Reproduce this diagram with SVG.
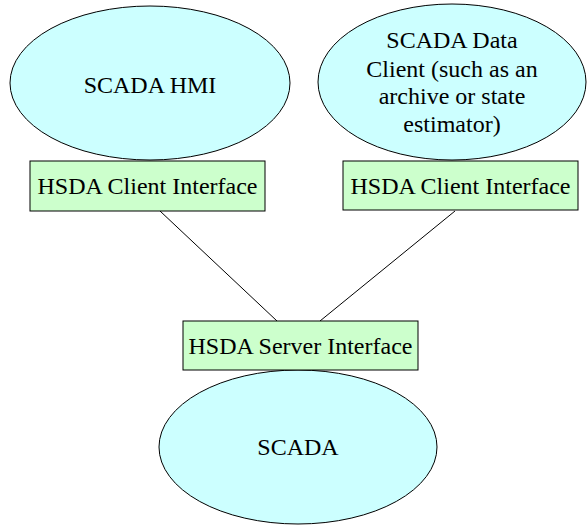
<svg xmlns="http://www.w3.org/2000/svg" width="587" height="525" viewBox="0 0 587 525">
<style>
.ell{fill:#CCFFFF;stroke:#000;stroke-width:1}
.box{fill:#CCFFCC;stroke:#000;stroke-width:1}
.conn{stroke:#000;stroke-width:1;fill:none}
</style>
<rect width="587" height="525" fill="#fff"/>
<g id="connectors">
<line class="conn" x1="160" y1="211" x2="277" y2="321"/>
<line class="conn" x1="455" y1="211" x2="320" y2="321"/>
</g>
<g id="scada-hmi">
<ellipse class="ell" cx="150" cy="83" rx="140" ry="77"/>
<text x="150" y="93" style="font-family:'Liberation Serif',serif" font-size="24" text-anchor="middle">SCADA HMI</text>
</g>
<g id="scada-data-client">
<ellipse class="ell" cx="452" cy="82" rx="134" ry="78"/>
<text x="452" y="48" style="font-family:'Liberation Serif',serif" font-size="24" text-anchor="middle">SCADA Data</text>
<text x="452" y="77" style="font-family:'Liberation Serif',serif" font-size="24" text-anchor="middle">Client (such as an</text>
<text x="452" y="104" style="font-family:'Liberation Serif',serif" font-size="24" text-anchor="middle">archive or state</text>
<text x="452" y="132" style="font-family:'Liberation Serif',serif" font-size="24" text-anchor="middle">estimator)</text>
</g>
<g id="hsda-client-1">
<rect class="box" x="30" y="161" width="235" height="50"/>
<text x="147.5" y="194" style="font-family:'Liberation Serif',serif" font-size="24" text-anchor="middle">HSDA Client Interface</text>
</g>
<g id="hsda-client-2">
<rect class="box" x="343" y="161" width="235" height="49"/>
<text x="460.5" y="194" style="font-family:'Liberation Serif',serif" font-size="24" text-anchor="middle">HSDA Client Interface</text>
</g>
<g id="scada">
<ellipse class="ell" cx="298" cy="447" rx="139" ry="77"/>
<text x="298" y="455" style="font-family:'Liberation Serif',serif" font-size="24" text-anchor="middle">SCADA</text>
</g>
<g id="hsda-server">
<rect class="box" x="183" y="321" width="235" height="49"/>
<text x="300.5" y="354" style="font-family:'Liberation Serif',serif" font-size="24" text-anchor="middle">HSDA Server Interface</text>
</g>
</svg>
